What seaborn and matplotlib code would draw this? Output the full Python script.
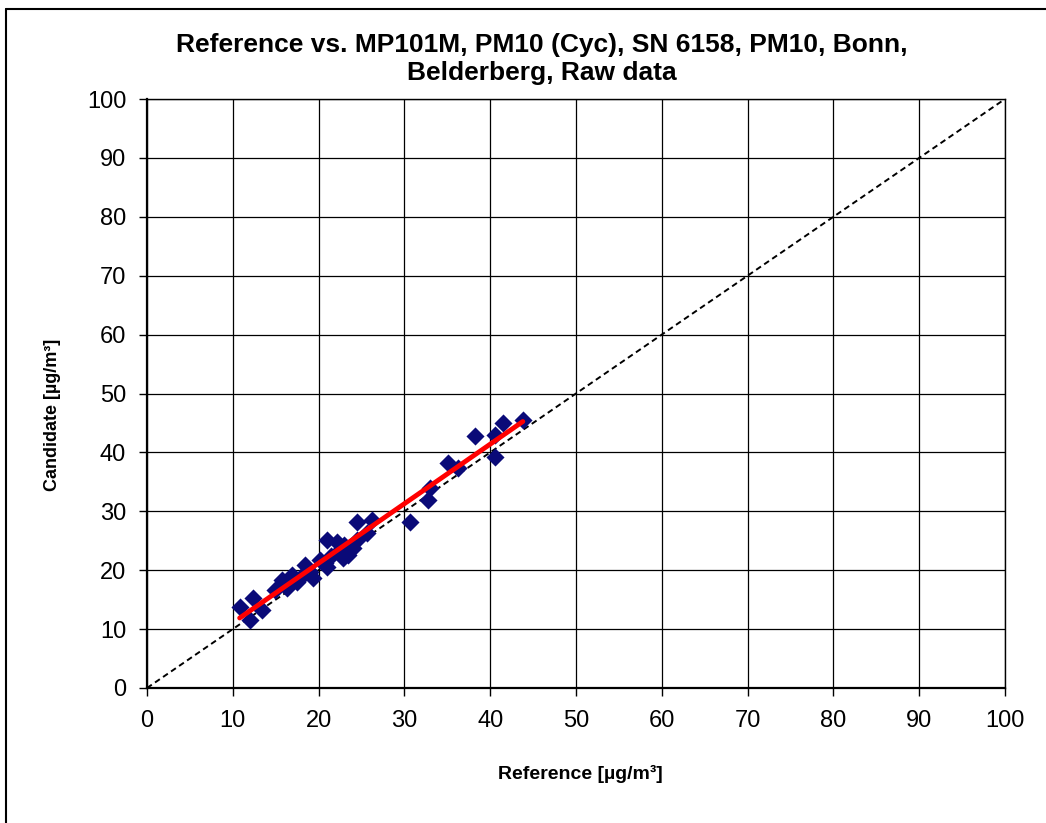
import matplotlib
matplotlib.use("Agg")
import matplotlib.pyplot as plt
import seaborn as sns
import numpy as np
import pandas as pd
from matplotlib.lines import Line2D

# Data
reference = [10.8, 12.4, 12.0, 13.4, 14.9, 15.7, 16.3, 16.9, 17.5, 18.4,
             19.3, 19.0, 20.2, 21.0, 21.0, 22.1, 22.8, 23.4, 24.5, 24.5,
             25.6, 26.2, 30.7, 32.8, 33.0, 35.1, 36.2, 38.2, 40.6, 40.6,
             41.5, 43.8, 16.0, 17.8, 20.8, 21.5, 23.0, 24.0, 18.8, 22.5]
candidate = [13.8, 15.3, 11.5, 13.2, 16.6, 18.3, 17.0, 19.2, 18.0, 20.9,
             18.7, 19.7, 21.7, 25.1, 20.5, 24.8, 22.1, 22.6, 28.2, 25.1,
             26.3, 28.5, 28.2, 31.9, 34.0, 38.2, 37.4, 42.8, 39.3, 43.0,
             45.0, 45.5, 17.8, 18.6, 21.3, 22.4, 24.2, 23.8, 20.0, 23.4]
ticks = list(range(0, 101, 10))
title = "Reference vs. MP101M, PM10 (Cyc), SN 6158, PM10, Bonn,\nBelderberg, Raw data"
xlabel = "Reference [µg/m³]"
ylabel = "Candidate [µg/m³]"

df = pd.DataFrame({"Reference": reference, "Candidate": candidate})

sns.set_style("white", {"text.color": "black", "axes.labelcolor": "black",
                        "xtick.color": "black", "ytick.color": "black"})
plt.rcParams['font.family'] = ['Liberation Sans', 'DejaVu Sans']

fig = plt.figure(figsize=(10.46, 8.23), dpi=100)
ax = fig.add_axes([147/1046, 1 - 688/823, (1005 - 147)/1046, (688 - 99)/823])

# 1:1 line
ax.plot([0, 100], [0, 100], ls=(0, (3, 2)), color="black", lw=1.4, zorder=2)

sns.scatterplot(data=df, x="Reference", y="Candidate", marker="D", s=85,
                color="#0a0a78", edgecolor="#0a0a78", linewidth=0, ax=ax, zorder=3)
sns.regplot(data=df, x="Reference", y="Candidate", scatter=False, ci=None,
            line_kws={"color": "#ff0000", "lw": 3.5, "zorder": 4}, ax=ax, truncate=True)

ax.set_xlim(0, 100)
ax.set_ylim(0, 100)
ax.set_xticks(ticks)
ax.set_yticks(ticks)
ax.grid(True, color="black", lw=0.9)
ax.set_axisbelow(True)
for s in ax.spines.values():
    s.set_color("black")
    s.set_linewidth(1.0)
ax.spines["bottom"].set_linewidth(1.6)
ax.spines["left"].set_linewidth(1.6)
ax.tick_params(axis="both", direction="out", length=6, width=1, color="black",
               labelcolor="black", labelsize=17, bottom=True, left=True)
ax.tick_params(axis="x", pad=10)
ax.tick_params(axis="y", pad=9)

ax.set_xlabel(xlabel, fontsize=14, fontweight="bold", color="black")
ax.set_ylabel(ylabel, fontsize=13, fontweight="bold", color="black")
ax.xaxis.set_label_coords(0.505, -0.13)
ax.yaxis.set_label_coords(-0.1, 0.463)
fig.text(0.518, 1 - 59/823, title, ha="center", va="center", fontsize=19,
         fontweight="bold", linespacing=1.2, color="black")

# figure border (left & top)
fig.add_artist(Line2D([6/1046, 6/1046], [0, 1 - 9/823], transform=fig.transFigure,
                      color="black", lw=1.5))
fig.add_artist(Line2D([6/1046, 1], [1 - 9/823, 1 - 9/823], transform=fig.transFigure,
                      color="black", lw=1.5))

fig.savefig("out.png", dpi=100)
